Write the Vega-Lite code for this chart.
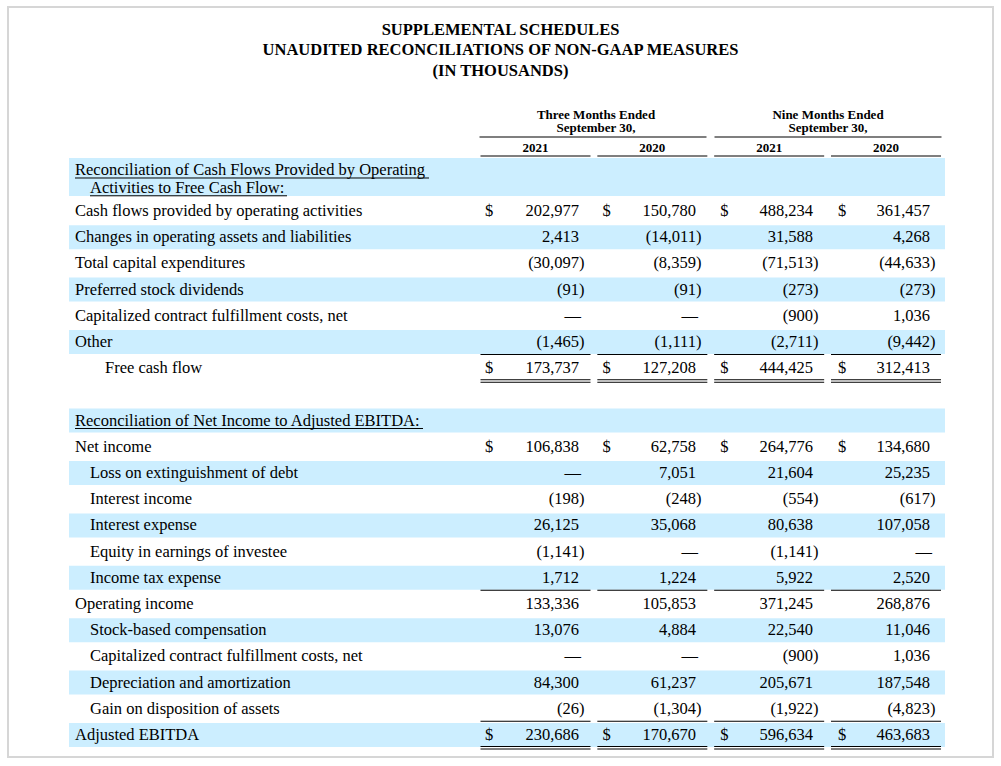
{
  "$schema": "https://vega.github.io/schema/vega-lite/v6.json",
  "width": 985,
  "height": 750,
  "autosize": {"type": "none"},
  "padding": {"left": 8, "top": 7, "right": 8, "bottom": 9},
  "background": "white",
  "title": {
    "text": ["SUPPLEMENTAL SCHEDULES", "UNAUDITED RECONCILIATIONS OF NON-GAAP MEASURES", "(IN THOUSANDS)"],
    "font": "Liberation Serif",
    "fontSize": 16.5,
    "fontWeight": "bold",
    "color": "#000000",
    "lineHeight": 20.5,
    "anchor": "middle",
    "frame": "group",
    "offset": -72
  },
  "config": {
    "view": {"stroke": "#d6d6d6", "strokeWidth": 2},
    "text": {"font": "Liberation Serif", "fontSize": 16.5, "color": "#000000"}
  },
  "datasets": {
    "labels": [
      {"r": 0, "line": 1, "lvl": 0, "label": "Reconciliation of Cash Flows Provided by Operating"},
      {"r": 0, "line": 2, "lvl": 1, "label": "Activities to Free Cash Flow:"},
      {"r": 1, "lvl": 0, "label": "Cash flows provided by operating activities"},
      {"r": 2, "lvl": 0, "label": "Changes in operating assets and liabilities"},
      {"r": 3, "lvl": 0, "label": "Total capital expenditures"},
      {"r": 4, "lvl": 0, "label": "Preferred stock dividends"},
      {"r": 5, "lvl": 0, "label": "Capitalized contract fulfillment costs, net"},
      {"r": 6, "lvl": 0, "label": "Other"},
      {"r": 7, "lvl": 2, "label": "Free cash flow"},
      {"r": 9, "lvl": 0, "label": "Reconciliation of Net Income to Adjusted EBITDA:", "section": true},
      {"r": 10, "lvl": 0, "label": "Net income"},
      {"r": 11, "lvl": 1, "label": "Loss on extinguishment of debt"},
      {"r": 12, "lvl": 1, "label": "Interest income"},
      {"r": 13, "lvl": 1, "label": "Interest expense"},
      {"r": 14, "lvl": 1, "label": "Equity in earnings of investee"},
      {"r": 15, "lvl": 1, "label": "Income tax expense"},
      {"r": 16, "lvl": 0, "label": "Operating income"},
      {"r": 17, "lvl": 1, "label": "Stock-based compensation"},
      {"r": 18, "lvl": 1, "label": "Capitalized contract fulfillment costs, net"},
      {"r": 19, "lvl": 1, "label": "Depreciation and amortization"},
      {"r": 20, "lvl": 1, "label": "Gain on disposition of assets"},
      {"r": 21, "lvl": 0, "label": "Adjusted EBITDA"}
    ],
    "values": [
      {"r": 1, "cur": true, "q21": 202977, "q20": 150780, "n21": 488234, "n20": 361457},
      {"r": 2, "q21": 2413, "q20": -14011, "n21": 31588, "n20": 4268},
      {"r": 3, "q21": -30097, "q20": -8359, "n21": -71513, "n20": -44633},
      {"r": 4, "q21": -91, "q20": -91, "n21": -273, "n20": -273},
      {"r": 5, "q21": null, "q20": null, "n21": -900, "n20": 1036},
      {"r": 6, "q21": -1465, "q20": -1111, "n21": -2711, "n20": -9442},
      {"r": 7, "cur": true, "q21": 173737, "q20": 127208, "n21": 444425, "n20": 312413},
      {"r": 10, "cur": true, "q21": 106838, "q20": 62758, "n21": 264776, "n20": 134680},
      {"r": 11, "q21": null, "q20": 7051, "n21": 21604, "n20": 25235},
      {"r": 12, "q21": -198, "q20": -248, "n21": -554, "n20": -617},
      {"r": 13, "q21": 26125, "q20": 35068, "n21": 80638, "n20": 107058},
      {"r": 14, "q21": -1141, "q20": null, "n21": -1141, "n20": null},
      {"r": 15, "q21": 1712, "q20": 1224, "n21": 5922, "n20": 2520},
      {"r": 16, "q21": 133336, "q20": 105853, "n21": 371245, "n20": 268876},
      {"r": 17, "q21": 13076, "q20": 4884, "n21": 22540, "n20": 11046},
      {"r": 18, "q21": null, "q20": null, "n21": -900, "n20": 1036},
      {"r": 19, "q21": 84300, "q20": 61237, "n21": 205671, "n20": 187548},
      {"r": 20, "q21": -26, "q20": -1304, "n21": -1922, "n20": -4823},
      {"r": 21, "cur": true, "q21": 230686, "q20": 170670, "n21": 596634, "n20": 463683}
    ],
    "cols": [
      {"r": -1, "c": "q21", "year": "2021"},
      {"r": -1, "c": "q20", "year": "2020"},
      {"r": -1, "c": "n21", "year": "2021"},
      {"r": -1, "c": "n20", "year": "2020"}
    ],
    "periods": [
      {"r": -2, "k": "three", "p": "Three Months Ended\nSeptember 30,"},
      {"r": -2, "k": "nine", "p": "Nine Months Ended\nSeptember 30,"}
    ]
  },
  "encoding": {
    "y": {"field": "r", "type": "quantitative", "scale": {"domain": [-6.786, 21.84], "reverse": true, "nice": false, "zero": false}, "axis": null}
  },
  "layer": [
    {
      "data": {"name": "labels"},
      "transform": [{"filter": "datum.r > 0 && ((datum.r < 8 && datum.r % 2 == 0) || (datum.r > 8 && datum.r % 2 == 1))"}],
      "mark": {"type": "rule", "color": "#CCEEFF", "strokeWidth": 24, "strokeCap": "butt"},
      "encoding": {"x": {"value": 61}, "x2": {"value": 937}}
    },
    {
      "data": {"name": "labels"},
      "transform": [{"filter": "datum.line == 1"}],
      "mark": {"type": "rule", "color": "#CCEEFF", "strokeWidth": 38, "strokeCap": "butt", "yOffset": -7.8},
      "encoding": {"x": {"value": 61}, "x2": {"value": 937}}
    },
    {
      "data": {"name": "labels"},
      "transform": [{"filter": "datum.r > 0"}],
      "mark": {"type": "text", "align": "left", "baseline": "middle"},
      "encoding": {
        "x": {"field": "lvl", "type": "quantitative", "scale": {"domain": [0, 2], "range": [67, 97]}, "axis": null},
        "text": {"field": "label"}
      }
    },
    {
      "data": {"name": "labels"},
      "transform": [{"filter": "datum.line == 1"}],
      "mark": {"type": "text", "align": "left", "baseline": "middle", "yOffset": -14.8},
      "encoding": {
        "x": {"field": "lvl", "type": "quantitative", "scale": {"domain": [0, 2], "range": [67, 97]}, "axis": null},
        "text": {"field": "label"}
      }
    },
    {
      "data": {"name": "labels"},
      "transform": [{"filter": "datum.line == 2"}],
      "mark": {"type": "text", "align": "left", "baseline": "middle", "yOffset": 3.2},
      "encoding": {
        "x": {"field": "lvl", "type": "quantitative", "scale": {"domain": [0, 2], "range": [67, 97]}, "axis": null},
        "text": {"field": "label"}
      }
    },
    {
      "data": {"name": "labels"},
      "transform": [{"filter": "datum.line == 1"}],
      "mark": {"type": "rule", "color": "#000000", "strokeWidth": 1, "yOffset": -6.8},
      "encoding": {"x": {"value": 67}, "x2": {"value": 421}}
    },
    {
      "data": {"name": "labels"},
      "transform": [{"filter": "datum.line == 2"}],
      "mark": {"type": "rule", "color": "#000000", "strokeWidth": 1, "yOffset": 11},
      "encoding": {"x": {"value": 82}, "x2": {"value": 279}}
    },
    {
      "data": {"name": "labels"},
      "transform": [{"filter": "datum.section == true"}],
      "mark": {"type": "rule", "color": "#000000", "strokeWidth": 1, "yOffset": 7.9},
      "encoding": {"x": {"value": 67}, "x2": {"value": 415}}
    },
    {
      "data": {"name": "values"},
      "transform": [{"fold": ["q21", "q20", "n21", "n20"], "as": ["c", "v"]}, {"filter": "isValid(datum.v) && datum.v >= 0"}],
      "mark": {"type": "text", "align": "right", "baseline": "middle"},
      "encoding": {
        "x": {"field": "c", "type": "nominal", "scale": {"type": "point", "domain": ["q21", "q20", "n21", "n20"], "range": [571, 922], "padding": 0}, "axis": null},
        "text": {"field": "v", "type": "quantitative", "format": ",.0f"}
      }
    },
    {
      "data": {"name": "values"},
      "transform": [{"fold": ["q21", "q20", "n21", "n20"], "as": ["c", "v"]}, {"filter": "isValid(datum.v) && datum.v < 0"}],
      "mark": {"type": "text", "align": "right", "baseline": "middle", "dx": 5.5},
      "encoding": {
        "x": {"field": "c", "type": "nominal", "scale": {"type": "point", "domain": ["q21", "q20", "n21", "n20"], "range": [571, 922], "padding": 0}, "axis": null},
        "text": {"field": "v", "type": "quantitative", "format": "(,.0f"}
      }
    },
    {
      "data": {"name": "values"},
      "transform": [{"fold": ["q21", "q20", "n21", "n20"], "as": ["c", "v"]}, {"filter": "!isValid(datum.v)"}],
      "mark": {"type": "text", "align": "right", "baseline": "middle", "dx": 2},
      "encoding": {
        "x": {"field": "c", "type": "nominal", "scale": {"type": "point", "domain": ["q21", "q20", "n21", "n20"], "range": [571, 922], "padding": 0}, "axis": null},
        "text": {"value": "—"}
      }
    },
    {
      "data": {"name": "values"},
      "transform": [{"fold": ["q21", "q20", "n21", "n20"], "as": ["c", "v"]}, {"filter": "datum.cur == true"}],
      "mark": {"type": "text", "align": "center", "baseline": "middle"},
      "encoding": {
        "x": {"field": "c", "type": "nominal", "scale": {"type": "point", "domain": ["q21", "q20", "n21", "n20"], "range": [481, 834], "padding": 0}, "axis": null},
        "text": {"value": "$"}
      }
    },
    {
      "data": {"name": "values"},
      "transform": [{"fold": ["q21", "q20", "n21", "n20"], "as": ["c", "v"]}, {"filter": {"field": "r", "oneOf": [6, 15, 20]}}],
      "mark": {"type": "tick", "orient": "horizontal", "color": "#000000", "opacity": 1, "thickness": 1, "size": 110, "yOffset": 12.5},
      "encoding": {
        "x": {"field": "c", "type": "nominal", "scale": {"type": "point", "domain": ["q21", "q20", "n21", "n20"], "range": [527.5, 878], "padding": 0}, "axis": null}
      }
    },
    {
      "data": {"name": "values"},
      "transform": [{"fold": ["q21", "q20", "n21", "n20"], "as": ["c", "v"]}, {"filter": {"field": "r", "oneOf": [7, 21]}}],
      "mark": {"type": "tick", "orient": "horizontal", "color": "#000000", "opacity": 1, "thickness": 1, "size": 110, "yOffset": 11.5},
      "encoding": {
        "x": {"field": "c", "type": "nominal", "scale": {"type": "point", "domain": ["q21", "q20", "n21", "n20"], "range": [527.5, 878], "padding": 0}, "axis": null}
      }
    },
    {
      "data": {"name": "values"},
      "transform": [{"fold": ["q21", "q20", "n21", "n20"], "as": ["c", "v"]}, {"filter": {"field": "r", "oneOf": [7, 21]}}],
      "mark": {"type": "tick", "orient": "horizontal", "color": "#000000", "opacity": 1, "thickness": 1, "size": 110, "yOffset": 14},
      "encoding": {
        "x": {"field": "c", "type": "nominal", "scale": {"type": "point", "domain": ["q21", "q20", "n21", "n20"], "range": [527.5, 878], "padding": 0}, "axis": null}
      }
    },
    {
      "data": {"name": "cols"},
      "mark": {"type": "text", "align": "center", "baseline": "middle", "fontWeight": "bold", "fontSize": 13, "yOffset": -10.6},
      "encoding": {
        "x": {"field": "c", "type": "nominal", "scale": {"type": "point", "domain": ["q21", "q20", "n21", "n20"], "range": [527.5, 878], "padding": 0}, "axis": null},
        "text": {"field": "year"}
      }
    },
    {
      "data": {"name": "cols"},
      "mark": {"type": "tick", "orient": "horizontal", "color": "#000000", "opacity": 1, "thickness": 1, "size": 110, "yOffset": -2.6},
      "encoding": {
        "x": {"field": "c", "type": "nominal", "scale": {"type": "point", "domain": ["q21", "q20", "n21", "n20"], "range": [527.5, 878], "padding": 0}, "axis": null}
      }
    },
    {
      "data": {"name": "periods"},
      "mark": {"type": "text", "align": "center", "baseline": "middle", "fontWeight": "bold", "fontSize": 13, "lineBreak": "\n", "lineHeight": 13, "yOffset": -17.5},
      "encoding": {
        "x": {"field": "k", "type": "nominal", "scale": {"type": "point", "domain": ["three", "nine"], "range": [588, 820], "padding": 0}, "axis": null},
        "text": {"field": "p"}
      }
    },
    {
      "data": {"name": "periods"},
      "mark": {"type": "tick", "orient": "horizontal", "color": "#000000", "opacity": 1, "thickness": 1, "size": 227, "yOffset": 4.6},
      "encoding": {
        "x": {"field": "k", "type": "nominal", "scale": {"type": "point", "domain": ["three", "nine"], "range": [585, 820], "padding": 0}, "axis": null}
      }
    }
  ],
  "resolve": {"scale": {"x": "independent"}}
}
